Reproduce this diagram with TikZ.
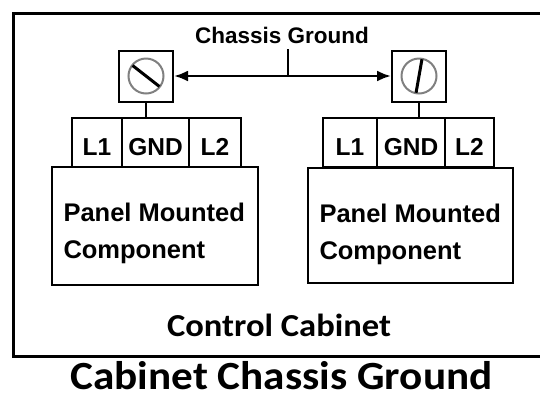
\documentclass[tikz,border=0pt]{standalone}
\usepackage{fontspec}
\setmainfont{Liberation Sans}
\newfontfamily\calfont[FakeStretch=1.08]{Carlito}
\usetikzlibrary{arrows.meta}

\begin{document}
\begin{tikzpicture}[x=1bp,y=-1bp,line width=2bp,
  cell/.style={draw,inner sep=0,minimum height=49bp,text height=25bp,text depth=0pt,
    font=\bfseries\fontsize{24.5bp}{30bp}\selectfont},
  compbox/.style={draw,inner sep=0},
  comptext/.style={anchor=north west,align=left,inner sep=0,
    font=\bfseries\fontsize{25.5bp}{37bp}\selectfont},
  screwbox/.style={draw,inner sep=0,minimum width=54bp,minimum height=51bp},
  screwhead/.style={circle,draw=gray,inner sep=0,minimum size=35bp},
  slot/.style={line width=3bp,shorten <=1.5bp,shorten >=1.5bp}]
  \useasboundingbox (0,0) rectangle (540,396);
  % cabinet outline, its right side is off the page
  \draw[line width=3bp] (560,13) -- (13,13) -- (13,356) -- (560,356);

  \foreach \s/\ta/\tb/\tc/\td/\ca/\cb/\cc/\cd in {l/72/122/189/241/52/258/167/285,
                                                  r/323/377/445/494/308/513/168/283} {
    \node[cell,minimum width={(\tb-\ta)*1bp}] (\s-l1) at ({(\ta+\tb)/2},142.5) {L1};
    \node[cell,minimum width={(\tc-\tb)*1bp}] (\s-gnd) at ({(\tb+\tc)/2},142.5) {GND};
    \node[cell,minimum width={(\td-\tc)*1bp}] (\s-l2) at ({(\tc+\td)/2},142.5) {L2};
    \node[compbox,minimum width={(\cb-\ca)*1bp},minimum height={(\cd-\cc)*1bp}]
      (\s-comp) at ({(\ca+\cb)/2},{(\cc+\cd)/2}) {};
    \node[comptext] (\s-text) at ({\ca+10.5},{\cc+35}) {Panel Mounted\\Component};
  }

  \foreach \s/\x/\ang in {l/146/142, r/419/80} {
    \pgfmathtruncatemacro\opp{\ang + 180}
    \node[screwbox] (\s-screw) at (\x,76) {};
    \node[screwhead] (\s-head) at (\s-screw) {};
    \draw[slot] (\s-head.\ang) -- (\s-head.\opp);
    \draw (\s-screw.south) -- (\s-screw.south |- \s-gnd.north);
  }

  \node[font=\bfseries\fontsize{22.5bp}{27bp}\selectfont,inner sep=5bp,anchor=base]
    (chassis) at (282,43) {Chassis Ground};
  \coordinate (tap) at (288,76);
  \draw[{Latex[length=14bp,width=11bp]}-{Latex[length=14bp,width=11bp]},line width=2.5bp]
    (l-screw.east) -- (r-screw.west);
  \draw (tap) -- (tap |- chassis.south);

  \node[font=\calfont\bfseries\fontsize{32bp}{38bp}\selectfont,inner sep=0,anchor=base]
    (cabinet) at (279,336) {Control Cabinet};
  \node[font=\calfont\bfseries\fontsize{40bp}{48bp}\selectfont,inner sep=0,anchor=base]
    (title) at (281.5,389.5) {Cabinet Chassis Ground};
\end{tikzpicture}
\end{document}
